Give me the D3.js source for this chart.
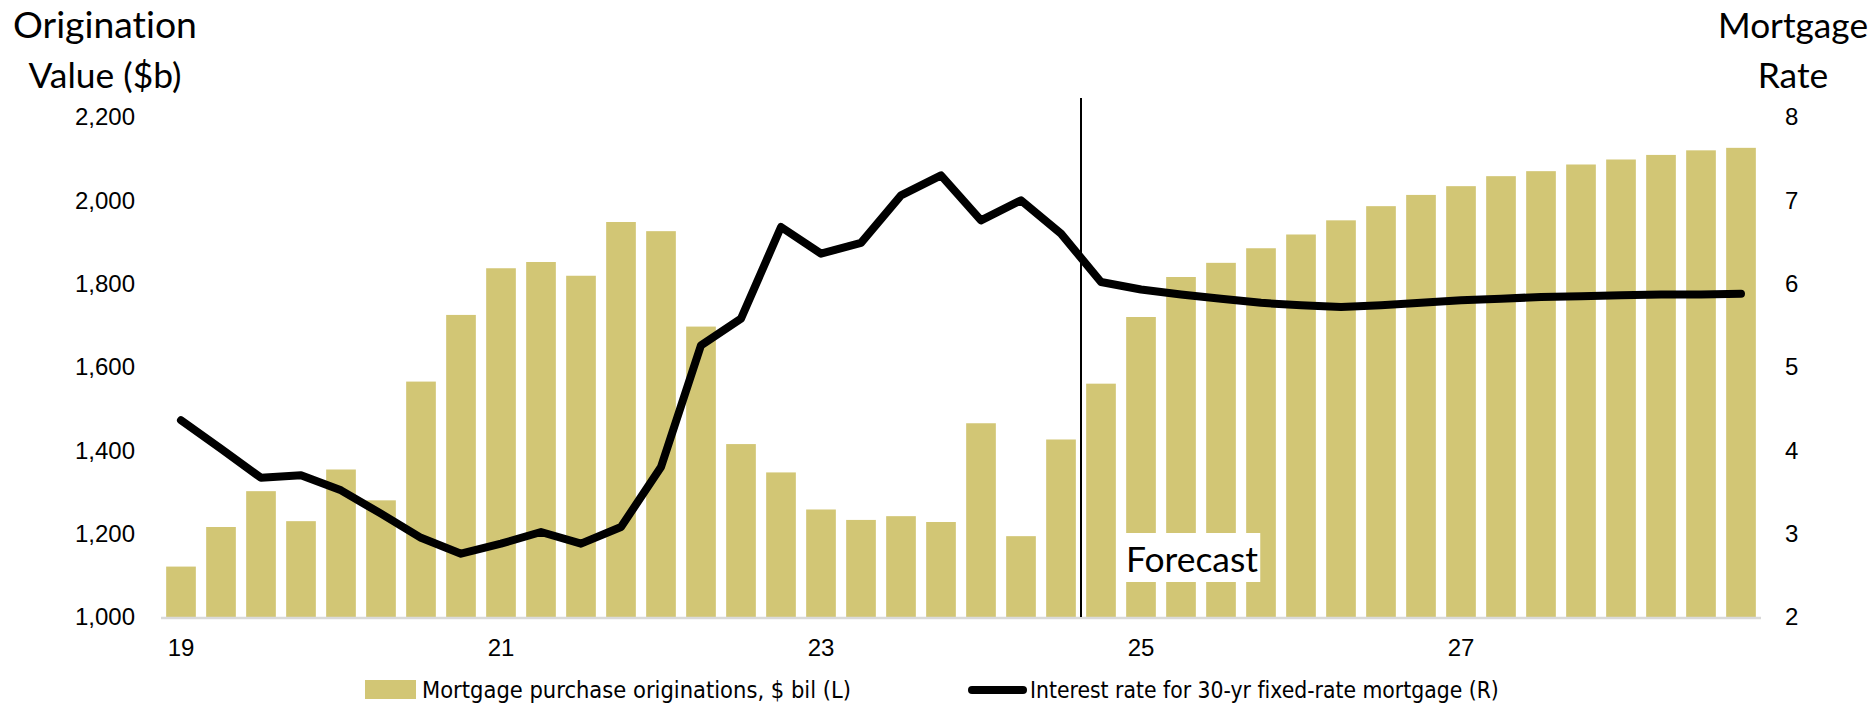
<!DOCTYPE html>
<html>
<head>
<meta charset="utf-8">
<script src="https://cdn.jsdelivr.net/npm/d3@7"></script>
<style>
  html, body { margin: 0; padding: 0; background: #fff; }
  svg { display: block; }
  text { font-variant-ligatures: none; font-feature-settings: "liga" 0, "clig" 0; }
</style>
</head>
<body>
<svg id="chart" width="1874" height="703"></svg>
<script>
// Quarterly periods, 2019Q1 through 2028Q4
const quarters = [
  "2019Q1","2019Q2","2019Q3","2019Q4","2020Q1","2020Q2","2020Q3","2020Q4",
  "2021Q1","2021Q2","2021Q3","2021Q4","2022Q1","2022Q2","2022Q3","2022Q4",
  "2023Q1","2023Q2","2023Q3","2023Q4","2024Q1","2024Q2","2024Q3","2024Q4",
  "2025Q1","2025Q2","2025Q3","2025Q4","2026Q1","2026Q2","2026Q3","2026Q4",
  "2027Q1","2027Q2","2027Q3","2027Q4","2028Q1","2028Q2","2028Q3","2028Q4"
];

// Mortgage purchase originations, $ bil (left axis)
const originations = [
  1121, 1216, 1302, 1230, 1354, 1280, 1565, 1725,
  1837, 1852, 1819, 1948, 1926, 1697, 1415, 1347,
  1258, 1233, 1242, 1228, 1465, 1194, 1426, 1560,
  1720, 1816, 1850, 1885, 1918, 1952, 1986, 2013,
  2034, 2058, 2070, 2086, 2098, 2109, 2120, 2126
];

// Interest rate for 30-yr fixed-rate mortgage, % (right axis)
const mortgageRate = [
  4.36, 4.02, 3.67, 3.70, 3.52, 3.24, 2.95, 2.76,
  2.88, 3.02, 2.88, 3.08, 3.80, 5.26, 5.58, 6.68,
  6.36, 6.49, 7.06, 7.30, 6.76, 7.00, 6.60, 6.02,
  5.93, 5.87, 5.82, 5.77, 5.74, 5.72, 5.74, 5.77,
  5.80, 5.82, 5.84, 5.85, 5.86, 5.87, 5.87, 5.88
];

const leftTicks = [1000, 1200, 1400, 1600, 1800, 2000, 2200];
const rightTicks = [2, 3, 4, 5, 6, 7, 8];
const xTickQuarters = ["2019Q1", "2021Q1", "2023Q1", "2025Q1", "2027Q1"];
const xTickLabels = ["19", "21", "23", "25", "27"];
const forecastStart = "2024Q4";

const seriesNames = [
  "Mortgage purchase originations, $ bil (L)",
  "Interest rate for 30-yr fixed-rate mortgage (R)"
];

// ---- layout ----
const plot = { left: 161, right: 1761, top: 117, bottom: 617 };
const barColor = "#D2C675";
const tickFont = "'Liberation Sans', Arial, sans-serif";
const titleFont = "Lato, 'Open Sans', sans-serif";
const legendFont = "'Liberation Sans Narrow', 'DejaVu Sans Condensed', 'Liberation Sans', sans-serif";

const svg = d3.select("#chart");

const x = d3.scaleBand()
  .domain(quarters)
  .range([plot.left, plot.right])
  .paddingInner(0.258)
  .paddingOuter(0.129);

const yL = d3.scaleLinear().domain([1000, 2200]).range([plot.bottom, plot.top]);
const yR = d3.scaleLinear().domain([2, 8]).range([plot.bottom, plot.top]);

const data = quarters.map((q, i) => ({ q, v: originations[i], r: mortgageRate[i] }));

// bars
svg.append("g")
  .selectAll("rect")
  .data(data)
  .join("rect")
  .attr("x", d => x(d.q))
  .attr("width", x.bandwidth())
  .attr("y", d => yL(d.v))
  .attr("height", d => yL(1000) - yL(d.v))
  .attr("fill", barColor);

// category axis baseline
svg.append("line")
  .attr("x1", plot.left).attr("x2", plot.right)
  .attr("y1", plot.bottom + 1).attr("y2", plot.bottom + 1)
  .attr("stroke", "#d9d9d9").attr("stroke-width", 2.5);

// forecast divider, placed in the gap before the first forecast quarter
const gap = x.step() - x.bandwidth();
const fx = x(forecastStart) - gap / 2;
svg.append("line")
  .attr("x1", fx).attr("x2", fx)
  .attr("y1", plot.top - 19).attr("y2", plot.bottom)
  .attr("stroke", "#000").attr("stroke-width", 2);

// rate line
const line = d3.line()
  .x(d => x(d.q) + x.bandwidth() / 2)
  .y(d => yR(d.r));

svg.append("path")
  .datum(data)
  .attr("d", line)
  .attr("fill", "none")
  .attr("stroke", "#000")
  .attr("stroke-width", 8)
  .attr("stroke-linejoin", "round")
  .attr("stroke-linecap", "round");

// scale a text's font size so it spans the given width
function fitWidth(sel, target) {
  const base = +sel.attr("font-size");
  const w = sel.node().getComputedTextLength();
  if (w > 0) sel.attr("font-size", (base * target / w).toFixed(2));
}

// "Forecast" label on a white box
const fLabel = svg.append("g");
const fText = fLabel.append("text")
  .attr("x", fx + 45)
  .attr("y", 572)
  .attr("font-family", titleFont)
  .attr("font-size", 32)
  .attr("fill", "#000")
  .text("Forecast");
fitWidth(fText, 132);
const fb = fText.node().getBBox();
fLabel.insert("rect", "text")
  .attr("x", fb.x - 1).attr("y", 533)
  .attr("width", fb.width + 3).attr("height", 49)
  .attr("fill", "#fff");

// left axis
const axL = svg.append("g")
  .attr("transform", `translate(${plot.left},0)`)
  .call(d3.axisLeft(yL).tickValues(leftTicks).tickFormat(d3.format(",")).tickSize(0).tickPadding(26));
axL.select(".domain").remove();
axL.selectAll("text").attr("font-family", tickFont).attr("font-size", 24).attr("fill", "#000");

// right axis
const axR = svg.append("g")
  .attr("transform", `translate(${plot.right},0)`)
  .call(d3.axisRight(yR).tickValues(rightTicks).tickFormat(d3.format("d")).tickSize(0).tickPadding(24));
axR.select(".domain").remove();
axR.selectAll("text").attr("font-family", tickFont).attr("font-size", 24).attr("fill", "#000");

// bottom axis
const tickMap = new Map(xTickQuarters.map((q, i) => [q, xTickLabels[i]]));
const axB = svg.append("g")
  .attr("transform", `translate(0,${plot.bottom})`)
  .call(d3.axisBottom(x).tickValues(xTickQuarters).tickFormat(q => tickMap.get(q)).tickSize(0).tickPadding(22));
axB.select(".domain").remove();
axB.selectAll("text").attr("font-family", tickFont).attr("font-size", 24).attr("fill", "#000");

// axis titles
function title(lines, cx, width) {
  lines.forEach((t, i) => {
    const el = svg.append("text")
      .attr("x", cx).attr("y", 38 + i * 50)
      .attr("text-anchor", "middle")
      .attr("font-family", titleFont)
      .attr("font-size", 36)
      .attr("fill", "#000")
      .text(t);
    if (i === 0) fitWidth(el, width);
    else el.attr("font-size", svg.select("text:last-of-type").attr("font-size"));
  });
}
title(["Origination", "Value ($b)"], 105, 184);
title(["Mortgage", "Rate"], 1793, 150);

// legend
const legY = 690;
svg.append("rect")
  .attr("x", 365).attr("y", legY - 10).attr("width", 51).attr("height", 19)
  .attr("fill", barColor);
const l1 = svg.append("text")
  .attr("x", 422).attr("y", legY)
  .attr("dominant-baseline", "central")
  .attr("font-family", legendFont).attr("font-size", 24).attr("fill", "#000")
  .text(seriesNames[0]);
fitWidth(l1, 429);

svg.append("line")
  .attr("x1", 972).attr("x2", 1023).attr("y1", legY).attr("y2", legY)
  .attr("stroke", "#000").attr("stroke-width", 8).attr("stroke-linecap", "round");
const l2 = svg.append("text")
  .attr("x", 1030).attr("y", legY)
  .attr("dominant-baseline", "central")
  .attr("font-family", legendFont).attr("font-size", 24).attr("fill", "#000")
  .text(seriesNames[1]);
fitWidth(l2, 469);
</script>
</body>
</html>
